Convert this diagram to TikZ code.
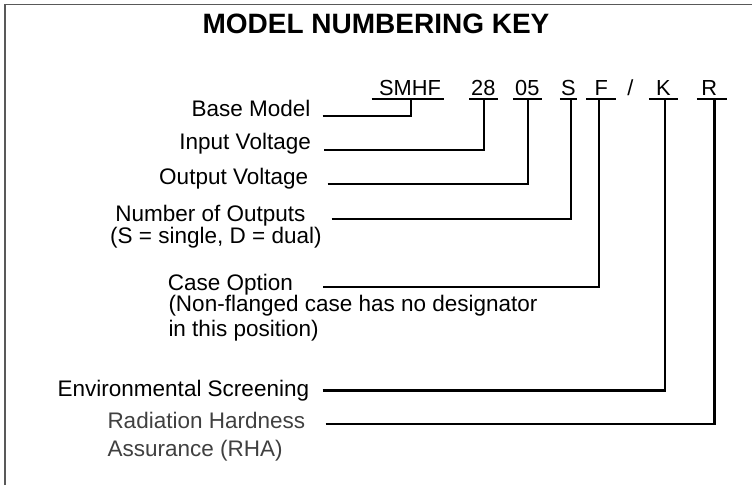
\documentclass[tikz,border=0pt]{standalone}
\usepackage{fontspec}
\setmainfont{Liberation Sans}
\begin{document}
\begin{tikzpicture}[x=1pt,y=-1pt,
  lbl/.style={inner sep=0pt,font=\fontsize{22.5}{27}\selectfont},
  code/.style={inner xsep=0pt,inner ysep=0pt,anchor=base,font=\fontsize{21.8}{25}\selectfont},
  conn/.style={line width=2.3pt,line cap=butt,line join=miter},
  uline/.style={line width=2.3pt}]
\useasboundingbox (0,0) rectangle (752,485);
% frame
\draw[gray!70!black,line width=1.5pt] (5,485) -- (5,4.5) -- (752,4.5);
% title
\node[inner sep=0pt,anchor=base,font=\fontsize{28}{32}\bfseries] (title) at (376,33.3) {MODEL NUMBERING KEY};
% code letters
\node[code,minimum width=71.6pt] (smhf) at (407.5,95) {\hspace*{5pt}SMHF};
\node[code,minimum width=28pt] (c28) at (483.3,95) {28};
\node[code,minimum width=28.7pt] (c05) at (527.3,95) {05};
\node[code,minimum width=16.7pt] (cS) at (568.3,95) {S};
\node[code,minimum width=29.3pt] (cF) at (601.3,95) {F};
\node[code] (slash) at (630.5,95) {/};
\node[code,minimum width=29pt] (cK) at (663.5,95) {K};
\node[code,minimum width=29.7pt] (cR) at (711.8,95) {R\hspace*{5pt}};
\foreach \n in {smhf,c28,c05,cS,cF,cK,cR}
  \draw[uline] ([yshift=-4.3pt]\n.base west) -- ([yshift=-4.3pt]\n.base east);
% labels
\node[lbl,anchor=base east] (bm) at (310.7,116.7) {Base Model};
\node[lbl,anchor=base east] (iv) at (311,149.5) {Input Voltage};
\node[lbl,anchor=base east] (ov) at (308.3,184.3) {Output Voltage};
\node[lbl,anchor=base east] (no) at (305.7,221.2) {Number of Outputs};
\node[lbl,anchor=base west] (no2) at (110,243) {(S = single, D = dual)};
\node[lbl,anchor=base west] (co) at (167.7,290) {Case Option};
\node[lbl,anchor=base west] (co2) at (168.3,311.7) {(Non-flanged case has no designator};
\node[lbl,anchor=base west] (co3) at (168.3,336.7) {in this position)};
\node[lbl,anchor=base east] (es) at (309.3,396.7) {Environmental Screening};
\node[lbl,anchor=base west,text=black!75] (rh) at (107.3,428.3) {Radiation Hardness};
\node[lbl,anchor=base west,text=black!75] (rh2) at (107.3,456) {Assurance (RHA)};
% connector start points
\coordinate (bmL) at (322.7,116);
\coordinate (ivL) at (324,150);
\coordinate (ovL) at (327.7,184.3);
\coordinate (noL) at (331.7,219);
\coordinate (coL) at (323.3,287);
\coordinate (esL) at (322.7,390.5);
\coordinate (rhL) at (325.7,424);
% connectors
\draw[conn] (bmL) -| ([xshift=3.2pt,yshift=-4.3pt]smhf.base);
\draw[conn] (ivL) -| ([xshift=0.7pt,yshift=-4.3pt]c28.base);
\draw[conn] (ovL) -| ([xshift=0.4pt,yshift=-4.3pt]c05.base);
\draw[conn] (noL) -| ([xshift=2.7pt,yshift=-4.3pt]cS.base);
\draw[conn] (coL) -| ([xshift=-2.3pt,yshift=-4.3pt]cF.base);
\draw[conn] (esL) -| ([xshift=1.5pt,yshift=-4.3pt]cK.base);
\draw[conn] (rhL) -| ([xshift=2.7pt,yshift=-4.3pt]cR.base);
\end{tikzpicture}
\end{document}
